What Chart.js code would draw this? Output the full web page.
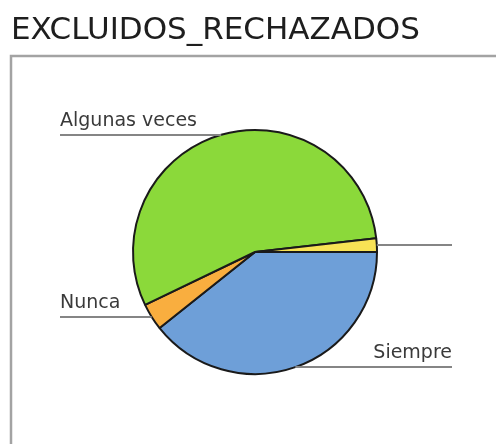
<!DOCTYPE html>
<html>
<head>
<meta charset="utf-8">
<script src="https://cdn.jsdelivr.net/npm/chart.js@4.4.1/dist/chart.umd.min.js"></script>
<style>
  html, body { margin: 0; padding: 0; background: #fff; }
  #wrap { position: relative; width: 496px; height: 444px; }
</style>
</head>
<body>
<div id="wrap"><canvas id="pieChart" width="496" height="444"></canvas></div>
<script>
const chartTitle = 'EXCLUIDOS_RECHAZADOS';
const categories = ['Siempre', 'Nunca', 'Algunas veces', ''];
const counts = [22, 2, 31, 1];

const sliceColors = ['#6e9fd8', '#f9ae3f', '#8bd93a', '#f8e255'];

// frame + title behind the pie
const framePlugin = {
    id: 'frame',
    beforeDraw(chart) {
        const ctx = chart.ctx;
        ctx.save();
        ctx.fillStyle = '#ffffff';
        ctx.fillRect(0, 0, chart.width, chart.height);
        ctx.strokeStyle = '#a3a3a3';
        ctx.lineWidth = 2.5;
        ctx.beginPath();
        ctx.moveTo(11, chart.height + 5);
        ctx.lineTo(11, 56);
        ctx.lineTo(chart.width + 5, 56);
        ctx.stroke();
        ctx.fillStyle = '#1e1e1e';
        ctx.font = '31px "DejaVu Sans"';
        ctx.textBaseline = 'alphabetic';
        ctx.fillText(chartTitle, 11, 39);
        ctx.restore();
    }
};

// leader lines with labels, like the office chart
const leaderPlugin = {
    id: 'leaders',
    afterDatasetsDraw(chart) {
        const ctx = chart.ctx;
        const arcs = chart.getDatasetMeta(0).data;
        ctx.save();
        ctx.font = '19px "DejaVu Sans"';
        ctx.textBaseline = 'alphabetic';
        arcs.forEach((arc, i) => {
            const p = arc.getProps(['x', 'y', 'startAngle', 'endAngle', 'outerRadius'], true);
            const mid = (p.startAngle + p.endAngle) / 2;
            const ex = p.x + Math.cos(mid) * p.outerRadius;
            const ey = Math.round(p.y + Math.sin(mid) * p.outerRadius);
            const right = Math.cos(mid) >= 0;
            const endX = right ? 452 : 60;
            ctx.strokeStyle = '#858585';
            ctx.lineWidth = 2;
            ctx.beginPath();
            ctx.moveTo(ex, ey);
            ctx.lineTo(endX, ey);
            ctx.stroke();
            ctx.fillStyle = '#3a3a3a';
            ctx.textAlign = right ? 'right' : 'left';
            ctx.fillText(chart.data.labels[i], endX, ey - 9);
        });
        ctx.restore();
    }
};

new Chart(document.getElementById('pieChart'), {
    type: 'pie',
    data: {
        labels: categories,
        datasets: [{
            data: counts,
            backgroundColor: sliceColors,
            borderColor: '#1a1a1a',
            borderWidth: 2
        }]
    },
    options: {
        responsive: false,
        animation: false,
        rotation: 90,
        layout: { padding: { left: 132, right: 118, top: 129, bottom: 69 } },
        plugins: {
            legend: { display: false },
            title: { display: false },
            tooltip: { enabled: false }
        }
    },
    plugins: [framePlugin, leaderPlugin]
});
</script>
</body>
</html>
